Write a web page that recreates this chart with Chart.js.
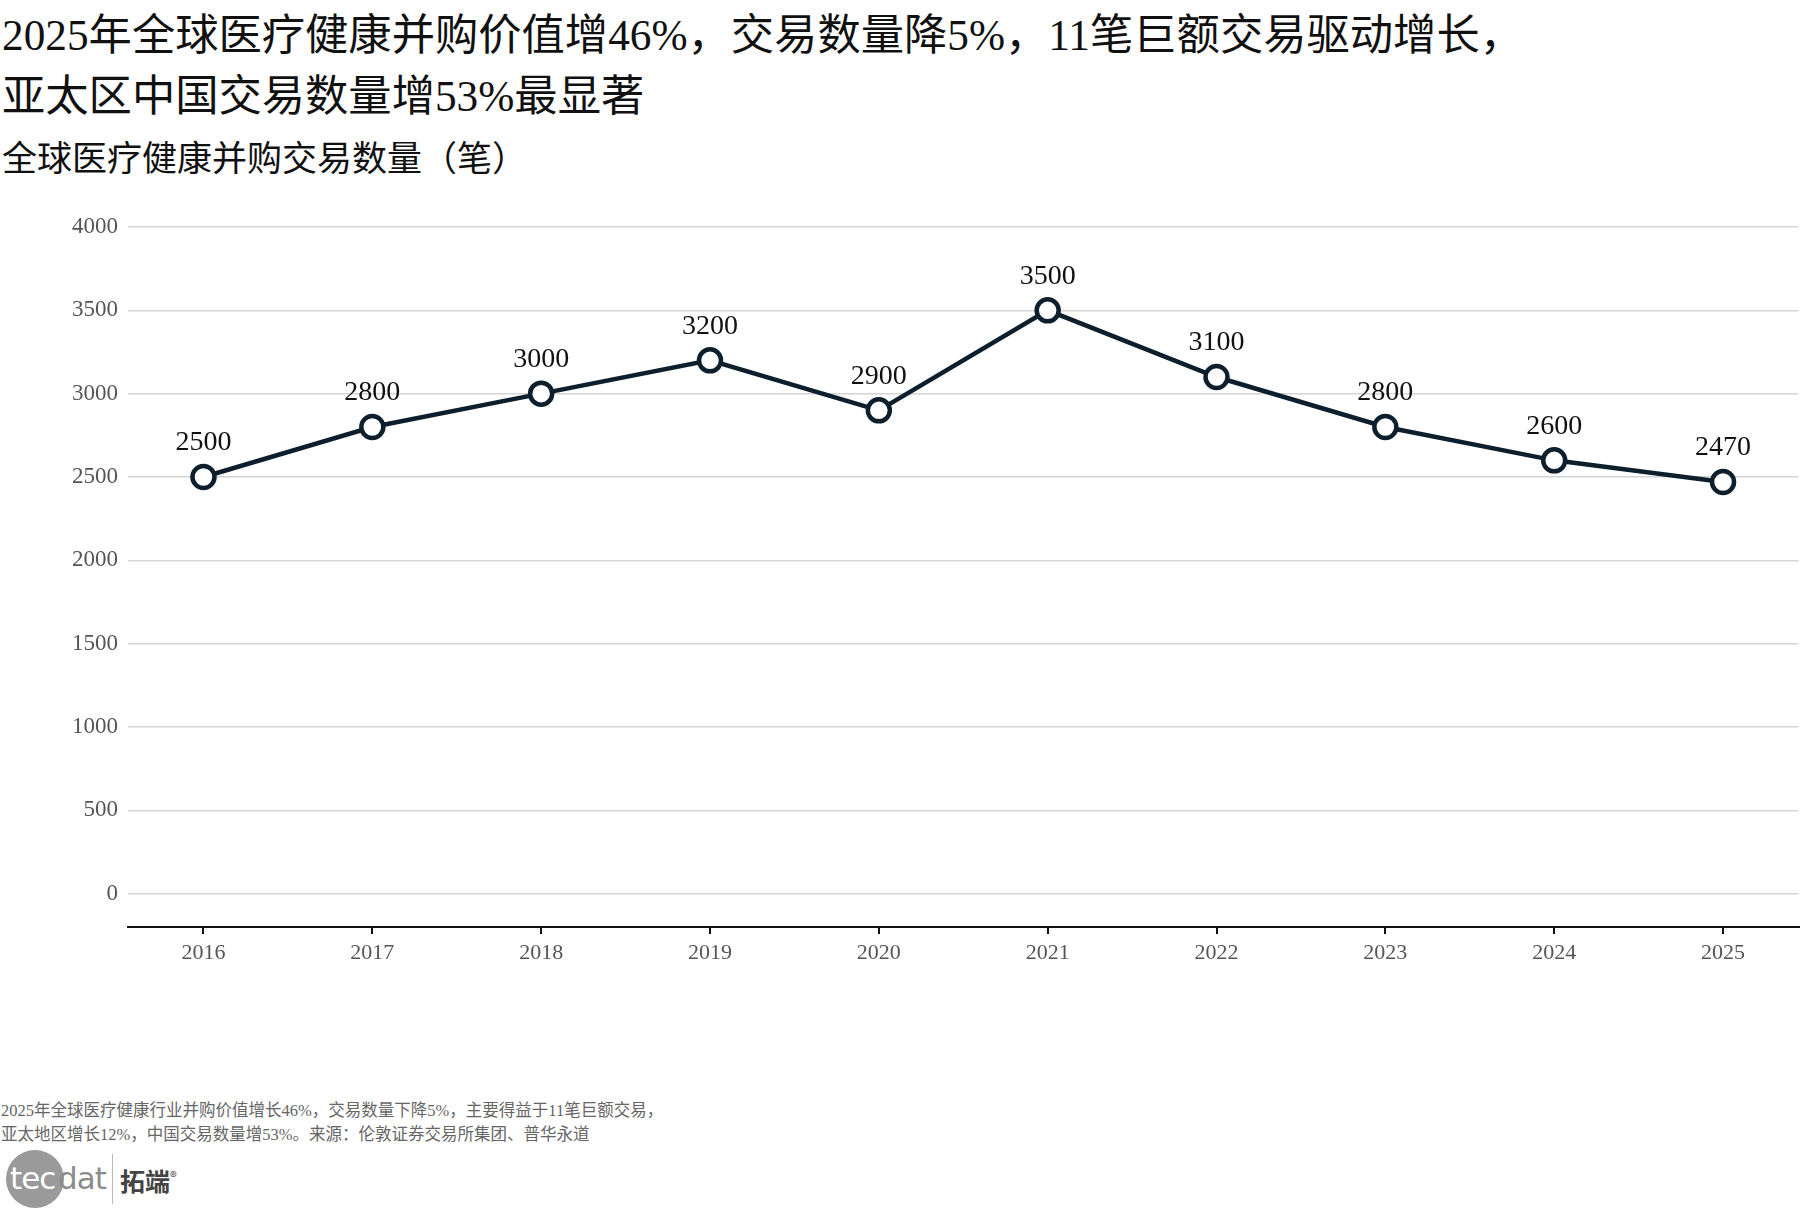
<!DOCTYPE html>
<html>
<head>
<meta charset="utf-8">
<script src="https://cdn.jsdelivr.net/npm/chart.js@4.4.1/dist/chart.umd.min.js"></script>
<style>
  body { margin: 0; background: #fff; width: 1814px; height: 1209px; overflow: hidden;
         font-family: "Liberation Serif", "Noto Sans CJK SC", serif; }
  .title { position: absolute; left: 2px; top: 5px; font-size: 43.3px; line-height: 61px; color: #111; white-space: nowrap; }
  .sub { position: absolute; left: 2px; top: 130px; font-size: 35px; color: #111; }
  #wrap { position: absolute; left: 0; top: 200px; width: 1814px; height: 787px; }
  .note { position: absolute; left: 1px; top: 1099px; font-size: 16.5px; line-height: 24px; color: #666; }
  .logo { position: absolute; left: 6px; top: 1150px; height: 60px; font-family: "DejaVu Sans", sans-serif; }
  .logo .circ { position: absolute; left: 0; top: 0; width: 58px; height: 58px; border-radius: 50%; background: #9a9a9a; }
  .logo .t1 { position: absolute; left: 4px; top: 10px; font-size: 31px; color: #fff; letter-spacing: -1px; }
  .logo .t2 { position: absolute; left: 52px; top: 10px; font-size: 31px; color: #8c8c8c; letter-spacing: -1px; }
  .logo .bar { position: absolute; left: 106px; top: 4px; width: 1px; height: 50px; background: #bbb; }
  .logo .t3 { position: absolute; left: 114px; top: 12px; font-size: 25px; font-weight: bold; color: #444;
              font-family: "Noto Sans CJK SC", sans-serif; white-space: nowrap; }
  .logo .t3 sup { font-size: 14px; font-weight: normal; }
</style>
</head>
<body>
<div class="title">2025年全球医疗健康并购价值增46%，交易数量降5%，11笔巨额交易驱动增长，<br>亚太区中国交易数量增53%最显著</div>
<div class="sub">全球医疗健康并购交易数量（笔）</div>
<div id="wrap"><canvas id="myChart"></canvas></div>
<div class="note">2025年全球医疗健康行业并购价值增长46%，交易数量下降5%，主要得益于11笔巨额交易，<br>亚太地区增长12%，中国交易数量增53%。来源：伦敦证券交易所集团、普华永道</div>
<div class="logo">
  <div class="circ"></div>
  <div class="t1">tec</div>
  <div class="t2">dat</div>
  <div class="bar"></div>
  <div class="t3">拓端<sup>®</sup></div>
</div>
<script>
// data
const years = [2016, 2017, 2018, 2019, 2020, 2021, 2022, 2023, 2024, 2025];
const deals = [2500, 2800, 3000, 3200, 2900, 3500, 3100, 2800, 2600, 2470];
const yTicks = [0, 500, 1000, 1500, 2000, 2500, 3000, 3500, 4000];

const lineColor = '#0d1f2d';

// value labels above points
const pointLabels = {
  id: 'pointLabels',
  afterDatasetsDraw(chart) {
    const ctx = chart.ctx;
    const meta = chart.getDatasetMeta(0);
    ctx.save();
    ctx.font = '28px "Liberation Serif", serif';
    ctx.fillStyle = '#111';
    ctx.textAlign = 'center';
    ctx.textBaseline = 'middle';
    meta.data.forEach(function (pt, i) {
      ctx.fillText(String(deals[i]), pt.x, pt.y - 34);
    });
    ctx.restore();
  }
};

const ctx = document.getElementById('myChart');

new Chart(ctx, {
  type: 'line',
  data: {
    datasets: [{
      label: '交易数量',
      data: years.map(function (y, i) { return { x: y, y: deals[i] }; }),
      borderColor: lineColor,
      borderWidth: 4.5,
      pointRadius: 11,
      pointHoverRadius: 11,
      pointBorderWidth: 4.5,
      pointBackgroundColor: '#fff',
      pointBorderColor: lineColor,
      tension: 0
    }]
  },
  options: {
    responsive: true,
    maintainAspectRatio: false,
    animation: false,
    layout: { padding: { left: 0, right: 0, top: 27, bottom: 0 } },
    plugins: {
      legend: { display: false },
      tooltip: { enabled: false }
    },
    scales: {
      x: {
        type: 'linear',
        min: 2015.553,
        max: 2025.447,
        afterBuildTicks: function (axis) {
          axis.ticks = years.map(function (v) { return { value: v }; });
        },
        afterFit: function (axis) { axis.height = 60; },
        grid: { drawOnChartArea: false, drawTicks: true, tickLength: 7, color: '#111', lineWidth: 2 },
        border: { display: true, color: '#111', width: 2 },
        ticks: {
          color: '#555',
          padding: 6,
          font: { family: '"Liberation Serif", serif', size: 22 },
          callback: function (v) { return String(v); }
        }
      },
      y: {
        min: -200,
        max: 4000,
        afterBuildTicks: function (axis) {
          axis.ticks = yTicks.map(function (v) { return { value: v }; });
        },
        afterFit: function (axis) { axis.width = 128; },
        grid: { drawTicks: false, color: '#d4d4d4', lineWidth: 1.5 },
        border: { display: false },
        ticks: {
          color: '#555',
          padding: 10,
          font: { family: '"Liberation Serif", serif', size: 23 },
          callback: function (v) { return String(v); }
        }
      }
    }
  },
  plugins: [pointLabels]
});
</script>
</body>
</html>
